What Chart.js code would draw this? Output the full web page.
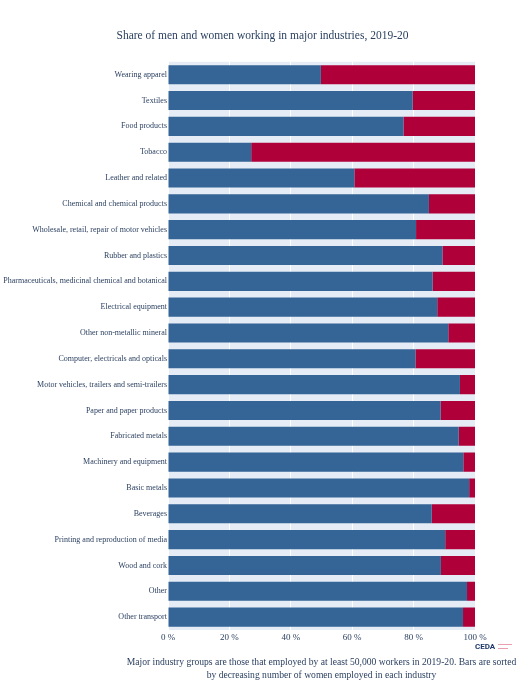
<!DOCTYPE html>
<html>
<head>
<meta charset="utf-8">
<script src="https://cdn.jsdelivr.net/npm/chart.js@4.4.1/dist/chart.umd.min.js"></script>
<style>
  html, body { margin: 0; padding: 0; background: #fff; }
  #wrap { width: 525px; height: 680px; }
</style>
</head>
<body>
<div id="wrap"><canvas id="industryChart"></canvas></div>
<script>
// industries, sorted by decreasing number of women employed
var industries = [
  'Wearing apparel', 'Textiles', 'Food products', 'Tobacco', 'Leather and related',
  'Chemical and chemical products', 'Wholesale, retail, repair of motor vehicles',
  'Rubber and plastics', 'Pharmaceuticals, medicinal chemical and botanical',
  'Electrical equipment', 'Other non-metallic mineral', 'Computer, electricals and opticals',
  'Motor vehicles, trailers and semi-trailers', 'Paper and paper products',
  'Fabricated metals', 'Machinery and equipment', 'Basic metals', 'Beverages',
  'Printing and reproduction of media', 'Wood and cork', 'Other', 'Other transport'
];
var menShare = [49.8, 79.7, 76.7, 27.1, 60.7, 85.0, 80.8, 89.4, 86.2, 87.7, 91.3,
                80.6, 95.1, 88.8, 94.7, 96.2, 98.1, 85.9, 90.3, 88.9, 97.4, 96.1];
var womenShare = [50.2, 20.3, 23.3, 72.9, 39.3, 15.0, 19.2, 10.6, 13.8, 12.3, 8.7,
                  19.4, 4.9, 11.2, 5.3, 3.8, 1.9, 14.1, 9.7, 11.1, 2.6, 3.9];
var xTicks = [0, 20, 40, 60, 80, 100];

var serif = "'Liberation Serif', 'DejaVu Serif', serif";
var ink = '#2a3f5f';

var plotBg = {
  id: 'plotBg',
  beforeDraw: function (chart) {
    var a = chart.chartArea, c = chart.ctx;
    c.save();
    c.fillStyle = '#e5ecf6';
    c.fillRect(a.left, a.top, a.right - a.left, a.bottom - a.top);
    c.restore();
  },
  afterDraw: function (chart) {
    var a = chart.chartArea, c = chart.ctx;
    var mid = (a.left + a.right) / 2;
    c.save();
    c.fillStyle = ink;
    c.textAlign = 'center';
    c.textBaseline = 'middle';
    c.font = '9.6px ' + serif;
    c.fillText('Major industry groups are those that employed by at least 50,000 workers in 2019-20. Bars are sorted', mid, 662);
    c.fillText('by decreasing number of women employed in each industry', mid, 675);
    // logo
    c.textAlign = 'left';
    c.font = 'bold 8px Roboto, sans-serif';
    c.fillStyle = '#1f3a6b';
    c.fillText('CEDA', 475, 647);
    c.fillStyle = '#e8a0b0';
    c.fillRect(498, 644, 14, 1);
    c.fillRect(498, 648, 10, 1);
    c.restore();
  }
};

var ctx = document.getElementById('industryChart');
var chart = new Chart(ctx, {
  type: 'bar',
  data: {
    labels: industries,
    datasets: [{
      label: 'Men',
      data: menShare,
      backgroundColor: '#346596',
      barPercentage: 0.74,
      categoryPercentage: 1
    }, {
      label: 'Women',
      data: womenShare,
      backgroundColor: '#b0003a',
      barPercentage: 0.74,
      categoryPercentage: 1
    }]
  },
  options: {
    indexAxis: 'y',
    responsive: true,
    maintainAspectRatio: false,
    animation: false,
    scales: {
      x: {
        stacked: true,
        min: 0, max: 100,
        border: { display: false },
        grid: { color: '#ffffff', lineWidth: 1, drawTicks: false },
        afterBuildTicks: function (axis) {
          axis.ticks = xTicks.map(function (v) { return { value: v }; });
        },
        afterFit: function (axis) { axis.height = 50; },
        ticks: {
          color: ink,
          padding: 2,
          font: { family: serif, size: 9 },
          callback: function (v) { return v + ' %'; }
        }
      },
      y: {
        stacked: true,
        border: { display: false },
        grid: { display: false, drawTicks: false, tickLength: 0 },
        afterFit: function (axis) { axis.width = 168; },
        ticks: {
          color: ink,
          padding: 1,
          autoSkip: false,
          font: { family: serif, size: 8 }
        }
      },
      // empty right margin so the title stays centred on the page
      yRight: {
        type: 'category',
        position: 'right',
        border: { display: false },
        grid: { display: false, drawTicks: false },
        ticks: { display: false },
        afterFit: function (axis) { axis.width = 50; }
      }
    },
    plugins: {
      legend: { display: false },
      tooltip: { enabled: false },
      title: {
        display: true,
        text: 'Share of men and women working in major industries, 2019-20',
        color: ink,
        font: { family: serif, size: 11.5, weight: 'normal' },
        padding: { top: 29, bottom: 19 }
      }
    }
  },
  plugins: [plotBg]
});
</script>
</body>
</html>
